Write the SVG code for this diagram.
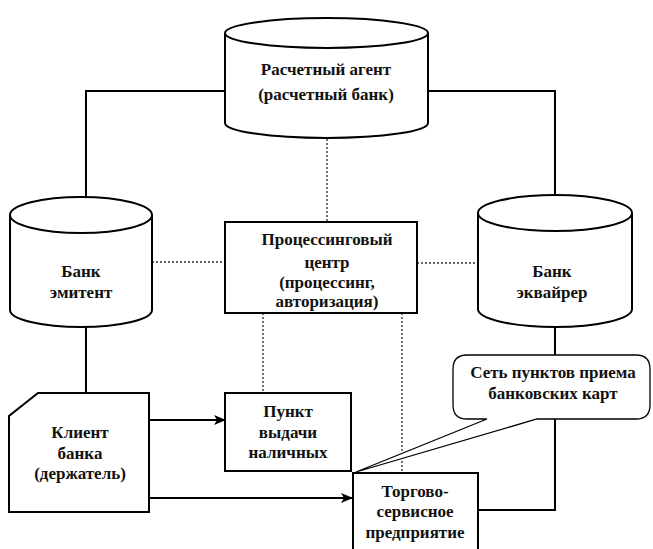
<svg xmlns="http://www.w3.org/2000/svg" width="653" height="549" viewBox="0 0 653 549">
  <defs>
    <marker id="arrow" markerWidth="12" markerHeight="10" refX="11" refY="5" orient="auto" markerUnits="userSpaceOnUse">
      <path d="M0,0 L12,5 L0,10 L3,5 z" fill="#000"/>
    </marker>
    <style>
      .shape { fill: #fff; stroke: #000; stroke-width: 2; }
      .link { fill: none; stroke: #000; stroke-width: 2; }
      .dots { fill: none; stroke: #333; stroke-width: 1.4; stroke-dasharray: 2 2; }
      .lbl { font-family: "Liberation Serif", "DejaVu Serif", serif; font-size: 17px; font-weight: bold; fill: #111; text-anchor: middle; }
    </style>
  </defs>
  <rect width="653" height="549" fill="#fff"/>

  <!-- connectors -->
  <g id="connectors">
    <polyline class="link" points="226,91 86,91 86,198" stroke-width="1.6"/>
    <polyline class="link" points="428,91 555,91 555,196" stroke-width="1.6"/>
    <line class="link" x1="86" y1="327" x2="86" y2="393"/>
    <polyline class="link" points="555,327 555,510 478,510"/>
    <line class="dots" x1="327" y1="139" x2="327" y2="222"/>
    <line class="dots" x1="152" y1="262" x2="225" y2="262"/>
    <line class="dots" x1="417" y1="263" x2="478" y2="263"/>
    <line class="dots" x1="263" y1="313" x2="263" y2="393"/>
    <line class="dots" x1="402" y1="313" x2="402" y2="473"/>
    <line class="link" x1="149" y1="420" x2="225" y2="420" marker-end="url(#arrow)"/>
    <line class="link" x1="149" y1="498" x2="352" y2="498" marker-end="url(#arrow)"/>
  </g>

  <!-- settlement agent -->
  <g id="settlement-agent">
    <path class="shape" d="M225,33 A101.5,15 0 0 1 428,33 L428,123 A101.5,15 0 0 1 225,123 Z"/>
    <path class="shape" d="M225,33 A101.5,15 0 0 0 428,33" fill="none"/>
    <text class="lbl" x="326" y="75">Расчетный агент</text>
    <text class="lbl" x="326" y="100">(расчетный банк)</text>
  </g>

  <!-- issuing bank -->
  <g id="issuer-bank">
    <path class="shape" d="M10,215 A71,18 0 0 1 152,215 L152,310 A71,17 0 0 1 10,310 Z"/>
    <path class="shape" d="M10,215 A71,18 0 0 0 152,215" fill="none"/>
    <text class="lbl" x="81" y="277">Банк</text>
    <text class="lbl" x="81" y="298">эмитент</text>
  </g>

  <!-- acquiring bank -->
  <g id="acquirer-bank">
    <path class="shape" d="M478,213 A77,18 0 0 1 632,213 L632,309 A77,18 0 0 1 478,309 Z"/>
    <path class="shape" d="M478,213 A77,18 0 0 0 632,213" fill="none"/>
    <text class="lbl" x="552" y="277">Банк</text>
    <text class="lbl" x="552" y="298">эквайрер</text>
  </g>

  <!-- processing center -->
  <g id="processing-center">
    <rect class="shape" x="225" y="222" width="192" height="91"/>
    <text class="lbl" x="327" y="245">Процессинговый</text>
    <text class="lbl" x="327" y="268">центр</text>
    <text class="lbl" x="327" y="288">(процессинг,</text>
    <text class="lbl" x="327" y="307">авторизация)</text>
  </g>

  <!-- cash point -->
  <g id="cash-point">
    <rect class="shape" x="225" y="393" width="126" height="78"/>
    <text class="lbl" x="288" y="417">Пункт</text>
    <text class="lbl" x="288" y="438">выдачи</text>
    <text class="lbl" x="288" y="458">наличных</text>
  </g>

  <!-- cardholder -->
  <g id="cardholder">
    <path class="shape" d="M38,393 L149,393 L149,512 L9,512 L9,416 Z"/>
    <text class="lbl" x="80" y="438">Клиент</text>
    <text class="lbl" x="80" y="459">банка</text>
    <text class="lbl" x="80" y="479">(держатель)</text>
  </g>

  <!-- merchant -->
  <g id="merchant">
    <rect class="shape" x="353" y="473" width="125" height="80"/>
    <text class="lbl" x="415" y="497">Торгово-</text>
    <text class="lbl" x="415" y="517">сервисное</text>
    <text class="lbl" x="415" y="538">предприятие</text>
  </g>

  <!-- acceptance network callout -->
  <g id="acceptance-network">
    <path fill="#fff" stroke="#000" stroke-width="1.3" d="M467,355 L636,355 Q650,355 650,369 L650,405 Q650,419 636,419 L537,419 L356,472 L487,419 L467,419 Q453,419 453,405 L453,369 Q453,355 467,355 Z"/>
    <text class="lbl" x="553" y="378">Сеть пунктов приема</text>
    <text class="lbl" x="553" y="399">банковских карт</text>
  </g>
</svg>
